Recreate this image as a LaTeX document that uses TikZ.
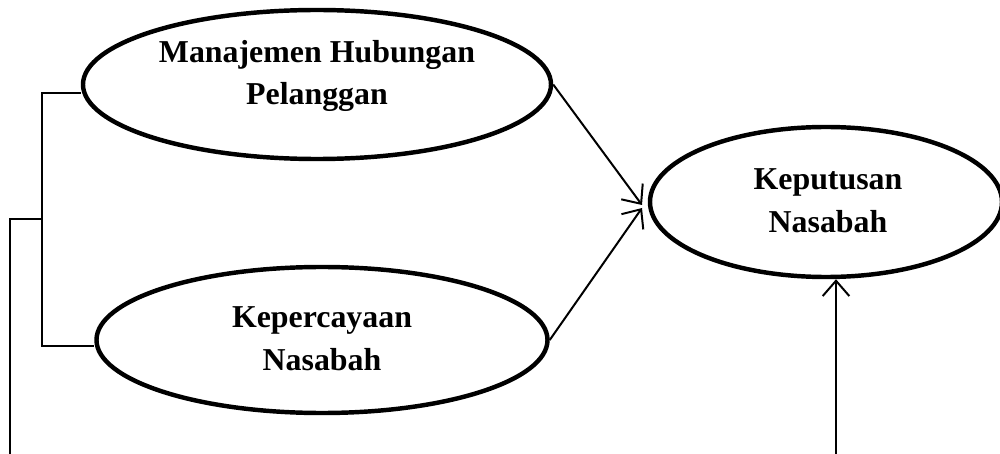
\documentclass[tikz,border=0pt]{standalone}
\usepackage{fontspec}
\setmainfont{Liberation Serif}
\usetikzlibrary{shapes.geometric,arrows.meta}
\begin{document}
\begin{tikzpicture}[x=0.03cm,y=-0.03cm,
  ell/.style={draw,ellipse,line width=3.8pt,inner sep=0pt},
  txt/.style={align=center,font=\bfseries\fontsize{27.2}{36.6}\selectfont,inner sep=0pt},
  arr/.style={line width=1.7pt,-{Straight Barb[length=0.46cm,width=0.8cm,line width=1.7pt]}},
  thin line/.style={line width=0.9pt},
  mid line/.style={line width=1.3pt}]
\useasboundingbox (0,0) rectangle (1000,454);
\node[ell,minimum width=14.04cm,minimum height=4.47cm] (mhp) at (317,84.5) {};
\node[txt] (tmhp) at (317,76) {Manajemen Hubungan\\Pelanggan};
\node[ell,minimum width=13.53cm,minimum height=4.38cm] (kn) at (322,340) {};
\node[txt] (tkn) at (322,339) {Kepercayaan\\Nasabah};
\node[ell,minimum width=10.56cm,minimum height=4.5cm] (kpn) at (826,202) {};
\node[txt] (tkpn) at (828,201) {Keputusan\\Nasabah};
% bracket
\coordinate (b1) at (42,93);
\coordinate (b2) at (42,346);
\coordinate (bm) at (42,219);
\coordinate (l1) at (10,219);
\coordinate (l2) at (10,454);
\draw[thin line] (mhp.west |- b1) -- (b1) -- (b2) -- (kn.west |- b2);
\draw[mid line] (bm) -- (l1) -- (l2);
% arrows
\coordinate (in1) at (642,205);
\coordinate (in2) at (642,208);
\draw[arr] (mhp.east) -- (in1);
\draw[arr] (kn.east) -- (in2);
\coordinate (bot) at (836,454);
\draw[arr] (bot) -- (bot |- kpn.south);
\end{tikzpicture}
\end{document}
